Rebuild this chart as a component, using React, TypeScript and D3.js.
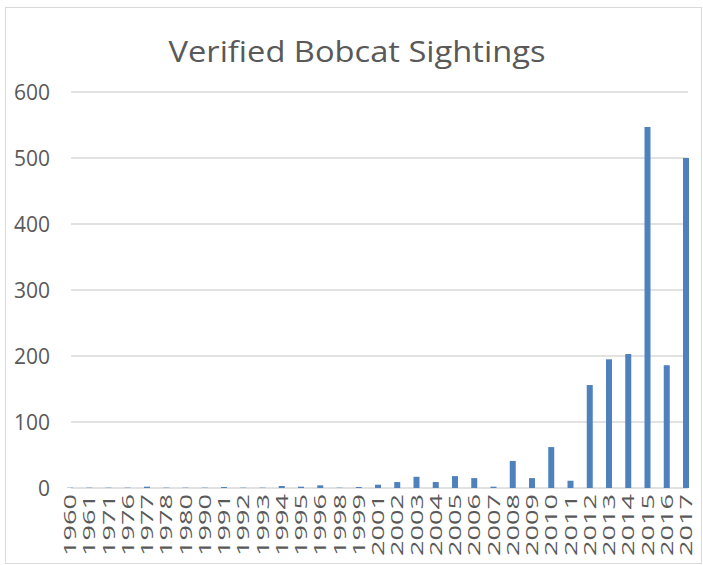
import { useEffect, useRef } from "react";
import * as d3 from "d3";

const years = [
  "1960", "1961", "1971", "1976", "1977", "1978", "1980", "1990", "1991", "1992", "1993",
  "1994", "1995", "1996", "1998", "1999", "2001", "2002", "2003", "2004", "2005", "2006",
  "2007", "2008", "2009", "2010", "2011", "2012", "2013", "2014", "2015", "2016", "2017",
];
const sightings = [
  0.5, 0.5, 0.5, 0.5, 2, 0.5, 0.5, 0.5, 1.5, 0.5, 0.5,
  3, 2, 4, 0.5, 1.5, 5, 9, 17, 9, 18, 15,
  2, 41, 15, 62, 11, 156, 195, 203, 547, 186, 500,
];
const yTicks = [0, 100, 200, 300, 400, 500, 600];

function App() {
  const ref = useRef<SVGSVGElement>(null);

  const width = 703;
  const height = 565;
  const margin = { top: 92, right: 15, bottom: 77, left: 71 };
  const font = "'Open Sans', sans-serif";

  useEffect(() => {
    const svg = d3.select(ref.current);
    svg.selectAll("*").remove();

    const data = years.map((y, i) => ({ key: y, value: sightings[i] }));

    // category centres
    const x = d3.scalePoint()
      .domain(years)
      .range([70, 686]);
    const barW = 6;

    const y = d3.scaleLinear()
      .domain([0, 600])
      .range([height - margin.bottom, margin.top]);

    // chart border
    svg.append("rect")
      .attr("x", 5.5).attr("y", 7.5)
      .attr("width", width - 7).attr("height", height - 9)
      .attr("fill", "white")
      .attr("stroke", "#d9d9d9");

    svg.append("text")
      .attr("x", 357).attr("y", 62)
      .attr("text-anchor", "middle")
      .attr("fill", "#595959")
      .attr("textLength", 377)
      .attr("lengthAdjust", "spacingAndGlyphs")
      .style("font-family", font)
      .style("font-size", "29px")
      .text("Verified Bobcat Sightings");

    // gridlines
    svg.append("g")
      .selectAll("line")
      .data(yTicks)
      .enter()
      .append("line")
      .attr("x1", margin.left).attr("x2", width - margin.right)
      .attr("y1", d => y(d)).attr("y2", d => y(d))
      .attr("stroke", "#d9d9d9")
      .attr("stroke-width", 1.3);

    svg.append("g")
      .selectAll("text")
      .data(yTicks)
      .enter()
      .append("text")
      .attr("x", 50).attr("y", d => y(d))
      .attr("dy", "0.36em")
      .attr("text-anchor", "end")
      .attr("fill", "#595959")
      .style("font-family", font)
      .style("font-size", "21px")
      .text(d => d);

    svg.append("g")
      .selectAll("rect")
      .data(data)
      .enter()
      .append("rect")
      .attr("x", d => x(d.key)! - barW / 2)
      .attr("y", d => y(d.value))
      .attr("width", barW)
      .attr("height", d => y(0) - y(d.value))
      .attr("fill", "#4f81bd");

    svg.append("g")
      .selectAll("text")
      .data(years)
      .enter()
      .append("text")
      .attr("transform", d => `translate(${x(d)!}, ${y(0) + 6}) rotate(-90)`)
      .attr("dy", "0.36em")
      .attr("text-anchor", "end")
      .attr("fill", "#595959")
      .attr("textLength", 62)
      .attr("lengthAdjust", "spacingAndGlyphs")
      .style("font-family", font)
      .style("font-size", "17px")
      .text(d => d);
  });

  return (
    <svg ref={ref} width={width} height={height}
      style={{ position: "absolute", left: 0, top: 0 }}></svg>
  );
}

export default App;
